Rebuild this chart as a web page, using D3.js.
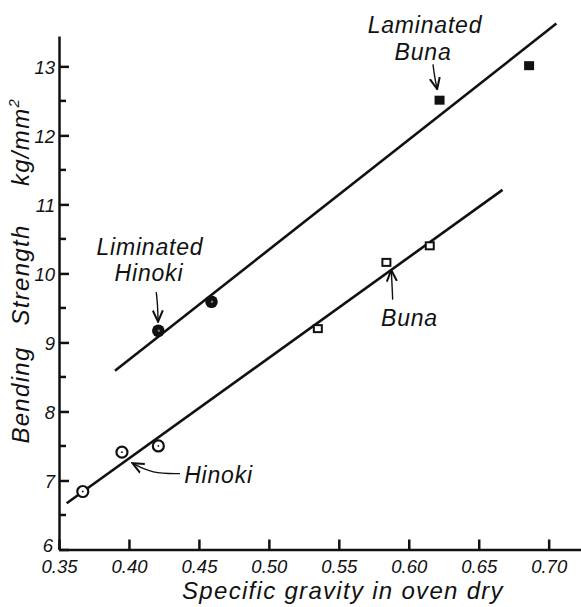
<!DOCTYPE html>
<meta charset="utf-8">
<style>
body { margin:0; background:#fff; }
svg text { font-family: "Liberation Sans", Arial, sans-serif; font-style: italic; fill:#111; }
.axis path, .axis line { fill:none; stroke:#111; stroke-width:2.5px; }
.axis text { font-size:18.5px; }
.fit { fill:none; stroke:#111; stroke-width:2.6px; }
.note { font-size:23px; letter-spacing:0.8px; }
.title { font-size:24px; letter-spacing:1.3px; }
.arrow { fill:none; stroke:#111; stroke-width:1.4px; }
</style>
<body>
<div id="chart"></div>
<script src="https://d3js.org/d3.v7.min.js"></script>
<script>
// values
var hinokiX = [0.367, 0.395, 0.421],
    hinokiY = [6.84, 7.41, 7.50];
var lamHinokiX = [0.421, 0.459],
    lamHinokiY = [9.17, 9.59];
var bunaX = [0.535, 0.584, 0.615],
    bunaY = [9.20, 10.16, 10.40];
var lamBunaX = [0.622, 0.686],
    lamBunaY = [12.51, 13.01];
// fitted lines (end points)
var lowerLineX = [0.3555, 0.667], lowerLineY = [6.67, 11.21];
var upperLineX = [0.390, 0.7055], upperLineY = [8.59, 13.62];
var xTicks = [0.35, 0.40, 0.45, 0.50, 0.55, 0.60, 0.65, 0.70];
var xTickLabels = ["0.35", "0.40", "0.45", "0.50", "0.55", "0.60", "0.65", "0.70"];
var yTicks = [6, 7, 8, 9, 10, 11, 12, 13];
var yMinor = [6.5, 7.5, 8.5, 9.5, 10.5, 11.5, 12.5];

var width = 581, height = 607;
var x = d3.scaleLinear().domain([0.35, 0.7231]).range([59, 581]);
var y = d3.scaleLinear().domain([6, 13.44]).range([549.5, 36]);

var svg = d3.select("#chart").append("svg")
    .attr("width", width)
    .attr("height", height);

function zip(a, b) { return a.map(function(v, i) { return [v, b[i]]; }); }

// axes
svg.append("g")
    .attr("class", "axis xaxis")
    .attr("transform", "translate(0," + y(6) + ")")
    .call(d3.axisBottom(x).tickValues(xTicks).tickSizeInner(-10).tickSizeOuter(0).tickPadding(10)
      .tickFormat(function(d, i) { return xTickLabels[i]; }));

svg.append("g")
    .attr("class", "axis yaxis")
    .attr("transform", "translate(" + x(0.35) + ",0)")
    .call(d3.axisLeft(y).tickValues(yTicks).tickSizeInner(-10).tickSizeOuter(0).tickPadding(4)
      .tickFormat(d3.format("d")));

svg.select(".yaxis").selectAll(".minor")
    .data(yMinor)
  .enter().append("line")
    .attr("class", "minor")
    .attr("x1", 0).attr("x2", 7)
    .attr("y1", function(d) { return y(d); })
    .attr("y2", function(d) { return y(d); });

svg.selectAll(".tick text").attr("fill", "#111");
svg.select(".yaxis").selectAll(".tick text")
    .attr("dy", function(d) { return d === 6 ? "0.1em" : "0.36em"; })
    .attr("x", function(d) { return d === 6 ? -6 : -4; });

// axis titles
svg.append("text")
    .attr("class", "title")
    .attr("x", 343).attr("y", 599)
    .attr("text-anchor", "middle")
    .text("Specific gravity in oven dry");

var yTitle = svg.append("g").attr("transform", "translate(29,0) rotate(-90)");
yTitle.append("text").attr("class", "title").attr("x", -395).attr("text-anchor", "middle").text("Bending");
yTitle.append("text").attr("class", "title").attr("x", -275).attr("text-anchor", "middle").text("Strength");
yTitle.append("text").attr("class", "title").attr("x", -142).attr("text-anchor", "middle")
    .html("kg/mm<tspan dy='-10' style='font-size:15px'>2</tspan>");

// fitted lines
var line = d3.line()
    .x(function(d) { return x(d[0]); })
    .y(function(d) { return y(d[1]); });

svg.append("path").datum(zip(lowerLineX, lowerLineY)).attr("class", "fit").attr("d", line);
svg.append("path").datum(zip(upperLineX, upperLineY)).attr("class", "fit").attr("d", line);

// Hinoki: open circles with a centre dot
var hin = svg.selectAll(".hin").data(zip(hinokiX, hinokiY)).enter().append("g")
    .attr("transform", function(d) { return "translate(" + x(d[0]) + "," + y(d[1]) + ")"; });
hin.append("circle").attr("r", 5.5).attr("fill", "#fff").attr("stroke", "#111").attr("stroke-width", 2.2);
hin.append("circle").attr("r", 0.9).attr("fill", "#111");

// Laminated Hinoki: filled circles
var lhin = svg.selectAll(".lhin").data(zip(lamHinokiX, lamHinokiY)).enter().append("g")
    .attr("transform", function(d) { return "translate(" + x(d[0]) + "," + y(d[1]) + ")"; });
lhin.append("circle").attr("r", 6.3).attr("fill", "#111");
lhin.append("circle").attr("r", 1.3).attr("cx", 0.5).attr("fill", "#777");

// Buna: open squares
svg.selectAll(".buna").data(zip(bunaX, bunaY)).enter().append("rect")
    .attr("x", function(d) { return x(d[0]) - 4; })
    .attr("y", function(d) { return y(d[1]) - 3.5; })
    .attr("width", 8).attr("height", 7)
    .attr("fill", "#fff").attr("stroke", "#111").attr("stroke-width", 2);

// Laminated Buna: filled squares
svg.selectAll(".lbuna").data(zip(lamBunaX, lamBunaY)).enter().append("rect")
    .attr("x", function(d) { return x(d[0]) - 5; })
    .attr("y", function(d) { return y(d[1]) - 4.5; })
    .attr("width", 10).attr("height", 9)
    .attr("fill", "#111");

// annotations
var defs = svg.append("defs");
defs.append("marker")
    .attr("id", "head")
    .attr("viewBox", "0 0 10 10")
    .attr("refX", 9).attr("refY", 5)
    .attr("markerWidth", 9).attr("markerHeight", 9)
    .attr("orient", "auto")
  .append("path")
    .attr("d", "M0,1 L9,5 L0,9")
    .attr("fill", "none").attr("stroke", "#111").attr("stroke-width", 1.6);

function label(txt, vx, vy, anchor) {
  svg.append("text").attr("class", "note")
    .attr("x", x(vx)).attr("y", y(vy))
    .attr("text-anchor", anchor || "middle")
    .text(txt);
}
function arrow(p) {
  var pts = p.map(function(d) { return [x(d[0]), y(d[1])]; });
  svg.append("path").attr("class", "arrow")
    .attr("d", d3.line().curve(d3.curveBasis)(pts))
    .attr("marker-end", "url(#head)");
}

label("Laminated", 0.6116, 13.486);
label("Buna", 0.6102, 13.094);
arrow([[0.6173, 13.03], [0.6185, 12.84], [0.6203, 12.67]]);

label("Liminated", 0.415, 10.27);
label("Hinoki", 0.4143, 9.89);
arrow([[0.4195, 9.73], [0.4205, 9.55], [0.4208, 9.30]]);

label("Buna", 0.6005, 9.239);
arrow([[0.5885, 9.62], [0.5880, 9.85], [0.5875, 10.05]]);

label("Hinoki", 0.4395, 6.96, "start");
arrow([[0.4365, 7.10], [0.4165, 7.10], [0.4025, 7.25]]);
</script>
</body>
